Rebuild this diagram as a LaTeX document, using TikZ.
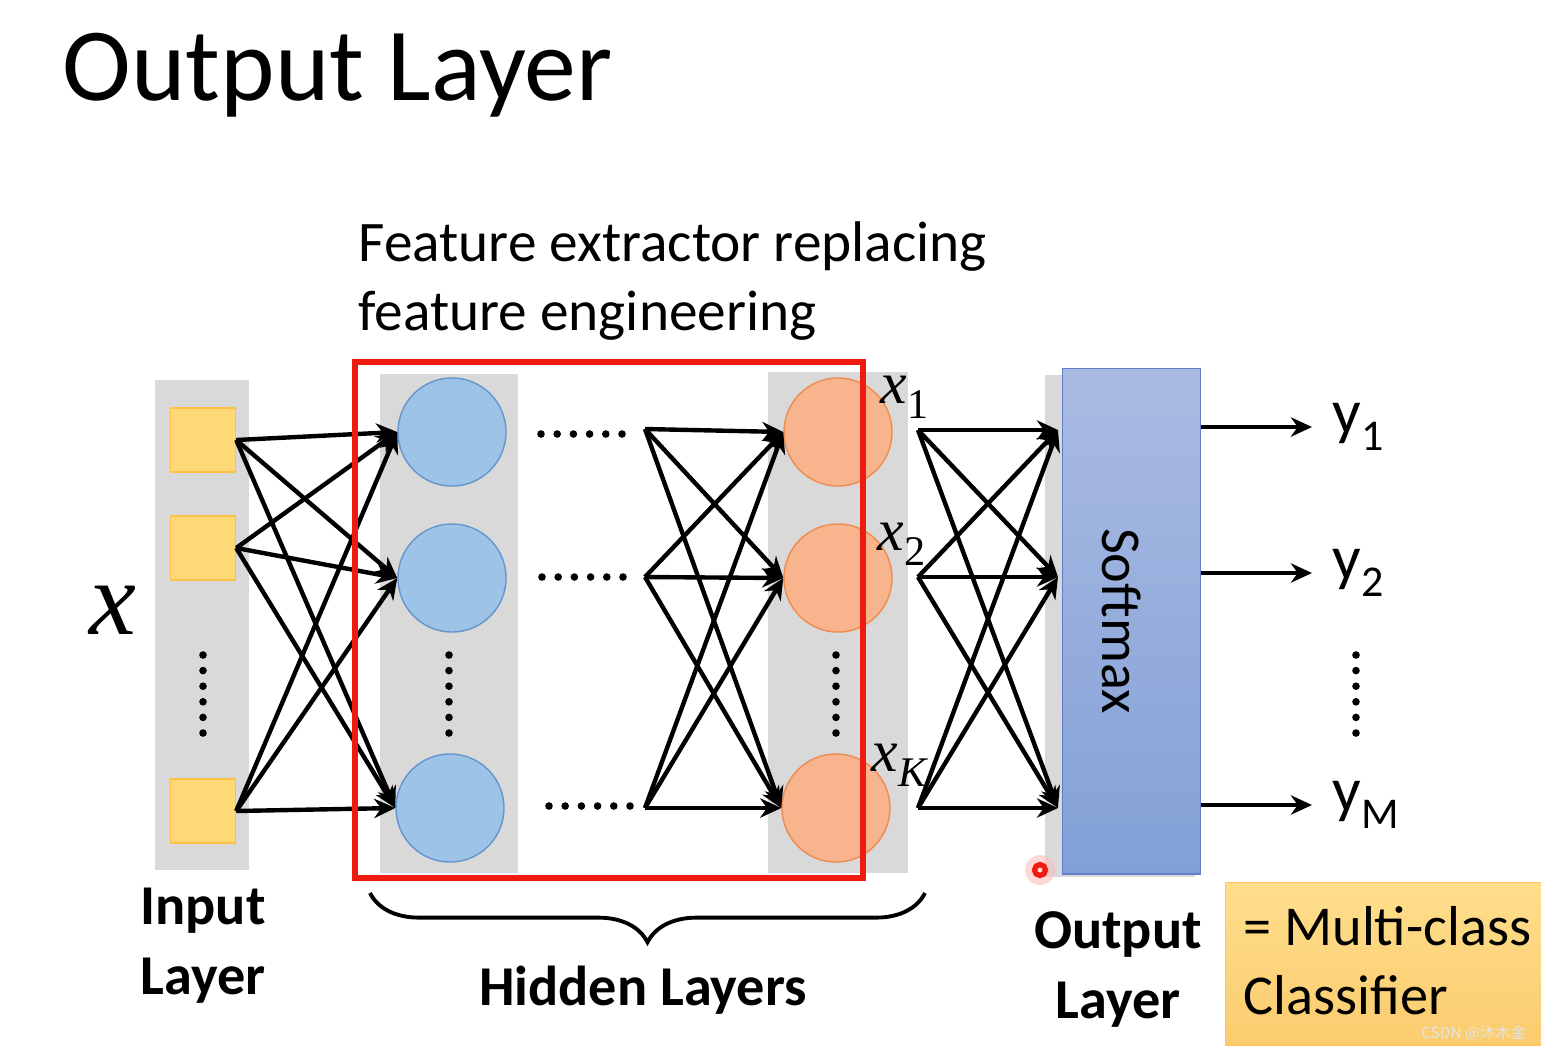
\documentclass[tikz,border=0pt]{standalone}
\usepackage{fontspec}
\setmainfont{Carlito}
\newfontfamily\serif{Liberation Serif}
\newfontfamily\cjkfont{Noto Sans CJK SC}
\usetikzlibrary{arrows.meta,decorations.pathreplacing}

\definecolor{panelgray}{RGB}{217,217,217}
\definecolor{sqfill}{RGB}{255,216,120}
\definecolor{sqline}{RGB}{250,195,70}
\definecolor{bluefill}{RGB}{157,195,230}
\definecolor{blueline}{RGB}{100,150,205}
\definecolor{orfill}{RGB}{248,180,140}
\definecolor{orline}{RGB}{238,140,80}
\definecolor{smtop}{RGB}{170,187,226}
\definecolor{smbot}{RGB}{130,160,215}
\definecolor{smline}{RGB}{95,125,200}
\definecolor{boxtop}{RGB}{255,222,140}
\definecolor{boxbot}{RGB}{250,204,110}
\definecolor{boxline}{RGB}{255,200,90}
\definecolor{framered}{RGB}{238,28,16}
\definecolor{markgray}{RGB}{228,228,228}

\newcommand{\xlab}[1]{{\serif\itshape x}\raisebox{-4.5pt}{\fontsize{12}{12}\selectfont\serif #1}}
\newcommand{\ylab}[1]{y\raisebox{-5pt}{\fontsize{12.5}{12.5}\selectfont #1}}

\tikzset{
 panel/.style={fill=panelgray},
 inbox/.style={draw=sqline, fill=sqfill, minimum width=0.65cm, minimum height=0.64cm, inner sep=0pt},
 hcirc/.style={circle, draw=blueline, fill=bluefill, minimum size=1.08cm, inner sep=0pt},
 kcirc/.style={circle, draw=orline, fill=orfill, minimum size=1.08cm, inner sep=0pt},
 arr/.style={-{Stealth[length=6pt,width=5.5pt]}, line width=1.25pt},
 lab/.style={font=\fontsize{16}{20}\selectfont\bfseries, align=center, inner sep=0pt},
 txt/.style={font=\fontsize{16}{19.5}\selectfont, align=left, inner sep=0pt},
 sublab/.style={anchor=base west, inner sep=0pt, font=\fontsize{17}{17}\selectfont},
 outlab/.style={anchor=west, inner sep=0pt, font=\fontsize{18}{18}\selectfont},
}

\begin{document}
\begin{tikzpicture}[x=0.01cm, y=-0.01cm]
 \useasboundingbox (0,0) rectangle (1541,1047);
 \fill[white] (0,0) rectangle (1541,1047);

 \node[anchor=base west, inner sep=0pt, font=\fontsize{29.5}{35}\selectfont] (title) at (62,100) {Output Layer};
 \node[txt, anchor=north west, font=\fontsize{16.3}{19.5}\selectfont] (feat) at (358,221) {Feature extractor replacing\\feature engineering};

 \fill[panel] (155,380) rectangle (249,870);
 \fill[panel] (380,374) rectangle (518,873);
 \fill[panel] (768,372) rectangle (908,873);
 \fill[panel] (1045,375) rectangle (1195,877);

 \node[font=\serif\itshape\fontsize{30}{30}\selectfont] (xin) at (113,610) {x};

 \node[inbox] (in1) at (203,440) {};
 \node[inbox] (in2) at (203,548) {};
 \node[inbox] (in3) at (203,811) {};

 \node[hcirc] (h1) at (452,432) {};
 \node[hcirc] (h2) at (452,578) {};
 \node[hcirc] (h3) at (450,808) {};

 \node[kcirc] (k1) at (838,432) {};
 \node[kcirc] (k2) at (838,578) {};
 \node[kcirc] (k3) at (836,808) {};

 \node[draw=smline, top color=smtop, bottom color=smbot, minimum width=1.38cm, minimum height=5.05cm, anchor=north west, inner sep=0pt] (softmax) at (1062,368) {};
 \node[rotate=-90, font=\fontsize{16}{16}\selectfont] (smtext) at (1122,621) {Softmax};

 \foreach \cx in {203,449,836,1356}
  \foreach \k in {0,...,5}
   \fill (\cx,655+\k*15.6) circle (3.8);
 \foreach \cy/\sx in {434/541, 577/542, 806/549}
  \foreach \k in {0,...,5}
   \fill (\sx+\k*16.2,\cy) circle (3.8);

 \coordinate (m1) at (645,429);
 \coordinate (m2) at (645,577);
 \coordinate (m3) at (645,808);
 \coordinate (e1) at (918,430);
 \coordinate (e2) at (918,577);
 \coordinate (e3) at (918,808);
 \coordinate (s1) at (1058,430);
 \coordinate (s2) at (1058,577);
 \coordinate (s3) at (1058,808);

 \foreach \i in {1,2,3}
  \foreach \j in {1,2,3} {
   \draw [arr] (in\i.east) -- (h\j.west);
   \draw [arr] (m\i) -- (k\j.west);
   \draw [arr] (e\i) -- (s\j);
  }

 \draw [framered, line width=1.45pt] (355,362) rectangle (863,878);

 \node[sublab] (x1) at (880,403) {\xlab{1}};
 \node[sublab] (x2) at (877,550) {\xlab{2}};
 \node[sublab] (xK) at (871,771) {\xlab{\itshape K}};

 \node[outlab] (y1) at (1332,427) {\ylab{1}};
 \node[outlab] (y2) at (1332,573) {\ylab{2}};
 \node[outlab] (yM) at (1332,805) {\ylab{M}};
 \draw [arr] (softmax.east |- y1) -- ([xshift=-0.2cm]y1.west);
 \draw [arr] (softmax.east |- y2) -- ([xshift=-0.2cm]y2.west);
 \draw [arr] (softmax.east |- yM) -- ([xshift=-0.2cm]yM.west);

 \draw [decorate, decoration={brace, mirror, amplitude=14pt}, line width=1.1pt] (370,893) -- (925,893);

 \node[lab, anchor=north] (inlab) at (203,887) {Input\\Layer};
 \node[lab, anchor=base] (hidlab) at (643,1005) {Hidden Layers};
 \node[lab, anchor=north] (outlab) at (1118,911) {Output\\Layer};

 \node[draw=boxline, top color=boxtop, bottom color=boxbot, minimum width=3.3cm, minimum height=1.62cm, anchor=north west, inner sep=0pt] (cls) at (1225,882) {};
 \node[txt, anchor=north west] (clstext) at (1243,906) {= Multi-class\\Classifier};
 \node[anchor=base east, inner sep=0pt, text=markgray, font=\cjkfont\fontsize{4.4}{5}\selectfont] (mark) at (1527,1038) {CSDN @沐木金};

 \fill[red!25, opacity=0.6] (1040,870) circle (15);
 \draw [framered, line width=1.5pt] (1040,870) circle (5.5);
\end{tikzpicture}
\end{document}
